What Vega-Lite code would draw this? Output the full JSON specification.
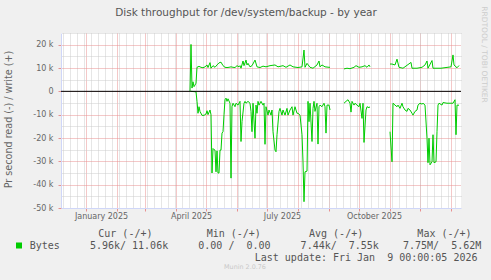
{
  "$schema": "https://vega.github.io/schema/vega-lite/v6.json",
  "width": 400,
  "height": 175,
  "autosize": {"type": "none"},
  "padding": {"left": 61, "top": 33, "right": 30, "bottom": 72},
  "background": "#f0f0f0",
  "config": {"view": {"fill": "#ffffff", "stroke": null}, "font": "DejaVu Sans"},
  "title": {"text": "Munin 2.0.76", "orient": "bottom", "anchor": "middle", "frame": "group", "dx": -16, "offset": 2, "baseline": "top", "font": "DejaVu Sans", "fontSize": 6.4, "fontWeight": "normal", "color": "#c8c8c8"},
  "layer": [
    {
      "data": {"values": [
        {"t":"2025-04-15","s":"w","v":0},{"t":"2025-04-16","s":"w","v":20100},{"t":"2025-04-17","s":"w","v":1400},{"t":"2025-04-18","s":"w","v":4100},{"t":"2025-04-19","s":"w","v":2000},{"t":"2025-04-20","s":"w","v":2700},{"t":"2025-04-21","s":"w","v":3500},{"t":"2025-04-22","s":"w","v":10300},{"t":"2025-04-24","s":"w","v":10700},{"t":"2025-04-26","s":"w","v":10300},{"t":"2025-04-28","s":"w","v":10100},{"t":"2025-04-30","s":"w","v":10500},{"t":"2025-05-02","s":"w","v":11300},{"t":"2025-05-03","s":"w","v":10200},{"t":"2025-05-05","s":"w","v":12300},{"t":"2025-05-06","s":"w","v":9900},{"t":"2025-05-08","s":"w","v":11000},{"t":"2025-05-10","s":"w","v":10300},{"t":"2025-05-12","s":"w","v":11300},{"t":"2025-05-14","s":"w","v":12200},{"t":"2025-05-16","s":"w","v":12500},{"t":"2025-05-18","s":"w","v":11000},{"t":"2025-05-20","s":"w","v":10300},{"t":"2025-05-22","s":"w","v":10200},{"t":"2025-05-24","s":"w","v":10300},{"t":"2025-05-26","s":"w","v":10500},{"t":"2025-05-28","s":"w","v":10300},{"t":"2025-05-30","s":"w","v":10200},{"t":"2025-06-01","s":"w","v":11000},{"t":"2025-06-03","s":"w","v":10500},{"t":"2025-06-04","s":"w","v":11000},{"t":"2025-06-05","s":"w","v":9900},{"t":"2025-06-07","s":"w","v":13000},{"t":"2025-06-08","s":"w","v":11000},{"t":"2025-06-10","s":"w","v":13400},{"t":"2025-06-11","s":"w","v":11300},{"t":"2025-06-12","s":"w","v":12000},{"t":"2025-06-14","s":"w","v":10500},{"t":"2025-06-16","s":"w","v":11000},{"t":"2025-06-19","s":"w","v":13400},{"t":"2025-06-21","s":"w","v":10500},{"t":"2025-06-24","s":"w","v":10200},{"t":"2025-06-27","s":"w","v":10800},{"t":"2025-06-30","s":"w","v":10500},{"t":"2025-07-04","s":"w","v":11000},{"t":"2025-07-09","s":"w","v":11300},{"t":"2025-07-12","s":"w","v":10500},{"t":"2025-07-17","s":"w","v":11000},{"t":"2025-07-20","s":"w","v":10300},{"t":"2025-07-24","s":"w","v":11300},{"t":"2025-07-27","s":"w","v":10500},{"t":"2025-08-01","s":"w","v":10200},{"t":"2025-08-05","s":"w","v":10500},{"t":"2025-08-07","s":"w","v":17700},{"t":"2025-08-08","s":"w","v":10300},{"t":"2025-08-10","s":"w","v":12000},{"t":"2025-08-13","s":"w","v":10300},{"t":"2025-08-16","s":"w","v":9900},{"t":"2025-08-20","s":"w","v":11300},{"t":"2025-08-22","s":"w","v":13000},{"t":"2025-08-23","s":"w","v":10500},{"t":"2025-08-25","s":"w","v":11300},{"t":"2025-08-28","s":"w","v":10500},{"t":"2025-09-01","s":"w","v":10300},{"t":"2025-09-02","s":"w","v":10300},{"t":"2025-09-08","s":"w","v":null},{"t":"2025-09-16","s":"w","v":9600},{"t":"2025-09-19","s":"w","v":9900},{"t":"2025-09-22","s":"w","v":9700},{"t":"2025-09-26","s":"w","v":10300},{"t":"2025-09-28","s":"w","v":11000},{"t":"2025-10-01","s":"w","v":10300},{"t":"2025-10-04","s":"w","v":10500},{"t":"2025-10-07","s":"w","v":11000},{"t":"2025-10-09","s":"w","v":10300},{"t":"2025-10-11","s":"w","v":11300},{"t":"2025-10-12","s":"w","v":10500},{"t":"2025-10-22","s":"w","v":null},{"t":"2025-11-01","s":"w","v":11700},{"t":"2025-11-03","s":"w","v":11700},{"t":"2025-11-06","s":"w","v":11300},{"t":"2025-11-08","s":"w","v":13800},{"t":"2025-11-10","s":"w","v":10300},{"t":"2025-11-14","s":"w","v":9900},{"t":"2025-11-22","s":"w","v":12400},{"t":"2025-11-23","s":"w","v":9900},{"t":"2025-11-28","s":"w","v":9900},{"t":"2025-12-03","s":"w","v":10300},{"t":"2025-12-06","s":"w","v":11300},{"t":"2025-12-08","s":"w","v":13000},{"t":"2025-12-09","s":"w","v":9900},{"t":"2025-12-13","s":"w","v":13200},{"t":"2025-12-14","s":"w","v":9900},{"t":"2025-12-22","s":"w","v":9900},{"t":"2026-01-01","s":"w","v":10500},{"t":"2026-01-03","s":"w","v":15600},{"t":"2026-01-04","s":"w","v":11300},{"t":"2026-01-07","s":"w","v":10100},{"t":"2026-01-09","s":"w","v":11060},
        {"t":"2025-04-16","s":"r","v":0},{"t":"2025-04-21","s":"r","v":-200},{"t":"2025-04-22","s":"r","v":-4300},{"t":"2025-04-23","s":"r","v":-9400},{"t":"2025-04-24","s":"r","v":-6600},{"t":"2025-04-25","s":"r","v":-8600},{"t":"2025-04-27","s":"r","v":-10300},{"t":"2025-04-29","s":"r","v":-10300},{"t":"2025-05-01","s":"r","v":-9700},{"t":"2025-05-02","s":"r","v":-8300},{"t":"2025-05-03","s":"r","v":-10000},{"t":"2025-05-05","s":"r","v":-8000},{"t":"2025-05-06","s":"r","v":-10000},{"t":"2025-05-07","s":"r","v":-35000},{"t":"2025-05-08","s":"r","v":-24500},{"t":"2025-05-09","s":"r","v":-25000},{"t":"2025-05-10","s":"r","v":-25200},{"t":"2025-05-11","s":"r","v":-34500},{"t":"2025-05-12","s":"r","v":-25500},{"t":"2025-05-13","s":"r","v":-35000},{"t":"2025-05-14","s":"r","v":-35000},{"t":"2025-05-15","s":"r","v":-25200},{"t":"2025-05-16","s":"r","v":-25200},{"t":"2025-05-17","s":"r","v":-17900},{"t":"2025-05-18","s":"r","v":-17300},{"t":"2025-05-19","s":"r","v":-10000},{"t":"2025-05-20","s":"r","v":-3600},{"t":"2025-05-21","s":"r","v":-2900},{"t":"2025-05-22","s":"r","v":-4300},{"t":"2025-05-23","s":"r","v":-3200},{"t":"2025-05-25","s":"r","v":-5100},{"t":"2025-05-26","s":"r","v":-37200},{"t":"2025-05-27","s":"r","v":-6600},{"t":"2025-05-28","s":"r","v":-5100},{"t":"2025-05-30","s":"r","v":-6600},{"t":"2025-05-31","s":"r","v":-5100},{"t":"2025-06-02","s":"r","v":-5900},{"t":"2025-06-04","s":"r","v":-4300},{"t":"2025-06-05","s":"r","v":-21500},{"t":"2025-06-06","s":"r","v":-13000},{"t":"2025-06-08","s":"r","v":-5100},{"t":"2025-06-09","s":"r","v":-4300},{"t":"2025-06-10","s":"r","v":-5100},{"t":"2025-06-12","s":"r","v":-4300},{"t":"2025-06-14","s":"r","v":-5100},{"t":"2025-06-15","s":"r","v":-8600},{"t":"2025-06-16","s":"r","v":-17300},{"t":"2025-06-17","s":"r","v":-5100},{"t":"2025-06-19","s":"r","v":-20100},{"t":"2025-06-20","s":"r","v":-5900},{"t":"2025-06-21","s":"r","v":-9400},{"t":"2025-06-22","s":"r","v":-4300},{"t":"2025-06-23","s":"r","v":-5900},{"t":"2025-06-25","s":"r","v":-4300},{"t":"2025-06-27","s":"r","v":-5900},{"t":"2025-06-28","s":"r","v":-5100},{"t":"2025-06-29","s":"r","v":-22700},{"t":"2025-06-30","s":"r","v":-6600},{"t":"2025-07-02","s":"r","v":-10200},{"t":"2025-07-03","s":"r","v":-8000},{"t":"2025-07-05","s":"r","v":-10200},{"t":"2025-07-06","s":"r","v":-8000},{"t":"2025-07-07","s":"r","v":-17300},{"t":"2025-07-09","s":"r","v":-25200},{"t":"2025-07-10","s":"r","v":-25900},{"t":"2025-07-11","s":"r","v":-18600},{"t":"2025-07-13","s":"r","v":-8600},{"t":"2025-07-14","s":"r","v":-7300},{"t":"2025-07-16","s":"r","v":-10200},{"t":"2025-07-17","s":"r","v":-8000},{"t":"2025-07-19","s":"r","v":-10200},{"t":"2025-07-21","s":"r","v":-7300},{"t":"2025-07-22","s":"r","v":-10200},{"t":"2025-07-24","s":"r","v":-8000},{"t":"2025-07-26","s":"r","v":-6600},{"t":"2025-07-27","s":"r","v":-10200},{"t":"2025-07-29","s":"r","v":-6600},{"t":"2025-07-31","s":"r","v":-9400},{"t":"2025-08-01","s":"r","v":-9400},{"t":"2025-08-03","s":"r","v":-10200},{"t":"2025-08-05","s":"r","v":-18600},{"t":"2025-08-06","s":"r","v":-30200},{"t":"2025-08-07","s":"r","v":-47300},{"t":"2025-08-08","s":"r","v":-34500},{"t":"2025-08-10","s":"r","v":-34200},{"t":"2025-08-11","s":"r","v":-4300},{"t":"2025-08-12","s":"r","v":-13000},{"t":"2025-08-13","s":"r","v":-5100},{"t":"2025-08-15","s":"r","v":-21500},{"t":"2025-08-16","s":"r","v":-7300},{"t":"2025-08-17","s":"r","v":-4300},{"t":"2025-08-18","s":"r","v":-8600},{"t":"2025-08-20","s":"r","v":-5100},{"t":"2025-08-21","s":"r","v":-22600},{"t":"2025-08-22","s":"r","v":-6600},{"t":"2025-08-23","s":"r","v":-5900},{"t":"2025-08-25","s":"r","v":-6600},{"t":"2025-08-27","s":"r","v":-5100},{"t":"2025-08-28","s":"r","v":-6600},{"t":"2025-08-29","s":"r","v":-17900},{"t":"2025-08-30","s":"r","v":-5900},{"t":"2025-09-01","s":"r","v":-5900},{"t":"2025-09-02","s":"r","v":-8000},{"t":"2025-09-08","s":"r","v":null},{"t":"2025-09-16","s":"r","v":-5100},{"t":"2025-09-18","s":"r","v":-4300},{"t":"2025-09-20","s":"r","v":-3600},{"t":"2025-09-22","s":"r","v":-5100},{"t":"2025-09-23","s":"r","v":-8900},{"t":"2025-09-24","s":"r","v":-4300},{"t":"2025-09-26","s":"r","v":-5900},{"t":"2025-09-27","s":"r","v":-5100},{"t":"2025-09-29","s":"r","v":-5900},{"t":"2025-10-01","s":"r","v":-6600},{"t":"2025-10-02","s":"r","v":-5100},{"t":"2025-10-04","s":"r","v":-11600},{"t":"2025-10-05","s":"r","v":-5100},{"t":"2025-10-06","s":"r","v":-21900},{"t":"2025-10-08","s":"r","v":-8000},{"t":"2025-10-09","s":"r","v":-6600},{"t":"2025-10-11","s":"r","v":-7000},{"t":"2025-10-12","s":"r","v":-6600},{"t":"2025-10-22","s":"r","v":null},{"t":"2025-11-01","s":"r","v":-17300},{"t":"2025-11-03","s":"r","v":-30200},{"t":"2025-11-04","s":"r","v":-5100},{"t":"2025-11-06","s":"r","v":-5900},{"t":"2025-11-08","s":"r","v":-6600},{"t":"2025-11-09","s":"r","v":-5900},{"t":"2025-11-11","s":"r","v":-7300},{"t":"2025-11-13","s":"r","v":-5100},{"t":"2025-11-14","s":"r","v":-6600},{"t":"2025-11-16","s":"r","v":-8000},{"t":"2025-11-18","s":"r","v":-8600},{"t":"2025-11-19","s":"r","v":-7300},{"t":"2025-11-21","s":"r","v":-8000},{"t":"2025-11-23","s":"r","v":-9400},{"t":"2025-11-24","s":"r","v":-10200},{"t":"2025-11-26","s":"r","v":-8600},{"t":"2025-11-28","s":"r","v":-8000},{"t":"2025-11-29","s":"r","v":-5900},{"t":"2025-12-01","s":"r","v":-5100},{"t":"2025-12-03","s":"r","v":-5500},{"t":"2025-12-04","s":"r","v":-5100},{"t":"2025-12-06","s":"r","v":-5900},{"t":"2025-12-08","s":"r","v":-20100},{"t":"2025-12-09","s":"r","v":-30600},{"t":"2025-12-10","s":"r","v":-20100},{"t":"2025-12-11","s":"r","v":-31500},{"t":"2025-12-13","s":"r","v":-30200},{"t":"2025-12-14","s":"r","v":-18600},{"t":"2025-12-15","s":"r","v":-30600},{"t":"2025-12-17","s":"r","v":-30200},{"t":"2025-12-18","s":"r","v":-17300},{"t":"2025-12-19","s":"r","v":-5900},{"t":"2025-12-20","s":"r","v":-5100},{"t":"2025-12-23","s":"r","v":-5900},{"t":"2025-12-24","s":"r","v":-4800},{"t":"2025-12-28","s":"r","v":-5100},{"t":"2025-12-31","s":"r","v":-5100},{"t":"2026-01-03","s":"r","v":-5100},{"t":"2026-01-05","s":"r","v":-3600},{"t":"2026-01-06","s":"r","v":-18600},{"t":"2026-01-07","s":"r","v":-5900},{"t":"2026-01-09","s":"r","v":-5960}
      ]},
      "mark": {"type": "line", "strokeWidth": 1, "invalid": "break-paths-show-domains"},
      "encoding": {
        "x": {
          "field": "t", "type": "temporal",
          "scale": {"type": "utc", "domain": [{"year": 2024, "month": 12, "date": 7, "utc": true}, {"year": 2026, "month": 1, "date": 11, "utc": true}]},
          "axis": {
            "orient": "bottom",
            "values": [{"year":2025,"month":1,"date":1,"utc":true},{"year":2025,"month":2,"date":1,"utc":true},{"year":2025,"month":3,"date":1,"utc":true},{"year":2025,"month":4,"date":1,"utc":true},{"year":2025,"month":5,"date":1,"utc":true},{"year":2025,"month":6,"date":1,"utc":true},{"year":2025,"month":7,"date":1,"utc":true},{"year":2025,"month":8,"date":1,"utc":true},{"year":2025,"month":9,"date":1,"utc":true},{"year":2025,"month":10,"date":1,"utc":true},{"year":2025,"month":11,"date":1,"utc":true},{"year":2025,"month":12,"date":1,"utc":true},{"year":2026,"month":1,"date":1,"utc":true}],
            "labelExpr": "utcmonth(datum.value) % 3 == 0 && utcyear(datum.value) == 2025 ? utcFormat(datum.value, '%B %Y') : ''",
            "labelOffset": 15, "labelFont": "DejaVu Sans", "labelFontSize": 8, "labelColor": "#666666", "labelPadding": 1.5,
            "labelOverlap": false, "labelFlush": false,
            "tickSize": 3, "tickColor": "#e89090",
            "grid": true, "gridColor": "#e89090", "gridDash": [1, 1],
            "domainColor": "#cfd6f8",
            "title": "Last update: Fri Jan\u00a0\u00a09 00:00:05 2026",
            "titleFont": "DejaVu Sans Mono", "titleFontSize": 10, "titleFontWeight": "normal", "titleColor": "#555555",
            "titleX": 416, "titleY": 52, "titleAlign": "right", "titleBaseline": "alphabetic", "titleLimit": 1000
          }
        },
        "y": {
          "field": "v", "type": "quantitative",
          "scale": {"domain": [-50000, 25000], "nice": false, "zero": false},
          "axis": {
            "orient": "left",
            "values": [-50000, -40000, -30000, -20000, -10000, 0, 10000, 20000],
            "labelExpr": "datum.value == 0 ? '0' : (datum.value < 0 ? '-' : '') + (abs(datum.value) / 1000) + ' k'",
            "labelFont": "DejaVu Sans", "labelFontSize": 8, "labelColor": "#666666", "labelPadding": 5,
            "tickSize": 3, "tickColor": "#e89090",
            "grid": true, "gridColor": "#e89090", "gridDash": [1, 1],
            "domainColor": "#cfd6f8",
            "title": "Pr second read (-) / write (+)",
            "titleFont": "DejaVu Sans", "titleFontSize": 9.6, "titleFontWeight": "normal", "titleColor": "#666666",
            "titleAngle": -90, "titleX": -49.5, "titleY": 86, "titleAlign": "center", "titleBaseline": "alphabetic"
          }
        },
        "detail": {"field": "s"},
        "color": {
          "datum": "Bytes\u00a0\u00a0\u00a0\u00a0\u00a05.96k/\u00a011.06k\u00a0\u00a0\u00a0\u00a0\u00a00.00\u00a0/\u00a0\u00a00.00\u00a0\u00a0\u00a0\u00a0\u00a07.44k/\u00a0\u00a07.55k\u00a0\u00a0\u00a0\u00a07.75M/\u00a0\u00a05.62M",
          "scale": {"range": ["#00cc00"]},
          "legend": {
            "orient": "none", "legendX": -47, "legendY": 195.5, "padding": 0,
            "title": "\u200b\u00a0\u00a0\u00a0\u00a0\u00a0\u00a0\u00a0\u00a0\u00a0\u00a0\u00a0\u00a0\u00a0\u00a0Cur\u00a0(-/+)\u00a0\u00a0\u00a0\u00a0\u00a0\u00a0\u00a0\u00a0\u00a0Min\u00a0(-/+)\u00a0\u00a0\u00a0\u00a0\u00a0\u00a0\u00a0\u00a0Avg\u00a0(-/+)\u00a0\u00a0\u00a0\u00a0\u00a0\u00a0\u00a0\u00a0\u00a0Max\u00a0(-/+)",
            "titleFont": "DejaVu Sans Mono", "titleFontSize": 10, "titleFontWeight": "normal", "titleColor": "#555555",
            "titlePadding": 2, "titleLimit": 1000,
            "labelFont": "DejaVu Sans Mono", "labelFontSize": 10, "labelColor": "#555555", "labelLimit": 1000, "labelOffset": 5.7,
            "symbolType": "square", "symbolSize": 36, "symbolFillColor": "#00cc00", "symbolStrokeWidth": 0, "symbolOpacity": 1
          }
        }
      }
    },
    {
      "data": {"values": [{}]},
      "mark": {"type": "rule", "color": "#000000", "strokeWidth": 1},
      "encoding": {
        "x": {
          "datum": {"year": 2024, "month": 12, "date": 7, "utc": true}, "type": "temporal",
          "axis": {
            "orient": "top",
            "values": [{"year":2024,"month":12,"date":9,"utc":true},{"year":2024,"month":12,"date":16,"utc":true},{"year":2024,"month":12,"date":23,"utc":true},{"year":2024,"month":12,"date":30,"utc":true},{"year":2025,"month":1,"date":6,"utc":true},{"year":2025,"month":1,"date":13,"utc":true},{"year":2025,"month":1,"date":20,"utc":true},{"year":2025,"month":1,"date":27,"utc":true},{"year":2025,"month":2,"date":3,"utc":true},{"year":2025,"month":2,"date":10,"utc":true},{"year":2025,"month":2,"date":17,"utc":true},{"year":2025,"month":2,"date":24,"utc":true},{"year":2025,"month":3,"date":3,"utc":true},{"year":2025,"month":3,"date":10,"utc":true},{"year":2025,"month":3,"date":17,"utc":true},{"year":2025,"month":3,"date":24,"utc":true},{"year":2025,"month":3,"date":31,"utc":true},{"year":2025,"month":4,"date":7,"utc":true},{"year":2025,"month":4,"date":14,"utc":true},{"year":2025,"month":4,"date":21,"utc":true},{"year":2025,"month":4,"date":28,"utc":true},{"year":2025,"month":5,"date":5,"utc":true},{"year":2025,"month":5,"date":12,"utc":true},{"year":2025,"month":5,"date":19,"utc":true},{"year":2025,"month":5,"date":26,"utc":true},{"year":2025,"month":6,"date":2,"utc":true},{"year":2025,"month":6,"date":9,"utc":true},{"year":2025,"month":6,"date":16,"utc":true},{"year":2025,"month":6,"date":23,"utc":true},{"year":2025,"month":6,"date":30,"utc":true},{"year":2025,"month":7,"date":7,"utc":true},{"year":2025,"month":7,"date":14,"utc":true},{"year":2025,"month":7,"date":21,"utc":true},{"year":2025,"month":7,"date":28,"utc":true},{"year":2025,"month":8,"date":4,"utc":true},{"year":2025,"month":8,"date":11,"utc":true},{"year":2025,"month":8,"date":18,"utc":true},{"year":2025,"month":8,"date":25,"utc":true},{"year":2025,"month":9,"date":1,"utc":true},{"year":2025,"month":9,"date":8,"utc":true},{"year":2025,"month":9,"date":15,"utc":true},{"year":2025,"month":9,"date":22,"utc":true},{"year":2025,"month":9,"date":29,"utc":true},{"year":2025,"month":10,"date":6,"utc":true},{"year":2025,"month":10,"date":13,"utc":true},{"year":2025,"month":10,"date":20,"utc":true},{"year":2025,"month":10,"date":27,"utc":true},{"year":2025,"month":11,"date":3,"utc":true},{"year":2025,"month":11,"date":10,"utc":true},{"year":2025,"month":11,"date":17,"utc":true},{"year":2025,"month":11,"date":24,"utc":true},{"year":2025,"month":12,"date":1,"utc":true},{"year":2025,"month":12,"date":8,"utc":true},{"year":2025,"month":12,"date":15,"utc":true},{"year":2025,"month":12,"date":22,"utc":true},{"year":2025,"month":12,"date":29,"utc":true},{"year":2026,"month":1,"date":5,"utc":true}],
            "labels": false, "ticks": false, "domain": false,
            "grid": true, "gridColor": "#cccccc", "gridDash": [1, 1],
            "title": "Disk throughput for /dev/system/backup - by year",
            "titleFont": "DejaVu Sans", "titleFontSize": 10.5, "titleFontWeight": "normal", "titleColor": "#555555",
            "titleX": 184.5, "titleY": -17.5, "titleAlign": "center", "titleBaseline": "alphabetic", "titleLimit": 1000
          }
        },
        "x2": {"datum": {"year": 2026, "month": 1, "date": 11, "utc": true}},
        "y": {
          "datum": 0, "type": "quantitative",
          "axis": {
            "orient": "right",
            "values": [-45000, -35000, -25000, -15000, -5000, 5000, 15000, 25000],
            "labels": false, "ticks": false, "domain": false,
            "grid": true, "gridColor": "#cccccc", "gridDash": [1, 1],
            "title": "RRDTOOL / TOBI OETIKER",
            "titleFont": "DejaVu Sans", "titleFontSize": 7.5, "titleFontWeight": "normal", "titleColor": "#cccccc",
            "titleAngle": 90, "titleX": 20, "titleY": 21, "titleAlign": "center", "titleBaseline": "alphabetic"
          }
        }
      }
    }
  ],
  "resolve": {"axis": {"x": "independent", "y": "independent"}}
}
